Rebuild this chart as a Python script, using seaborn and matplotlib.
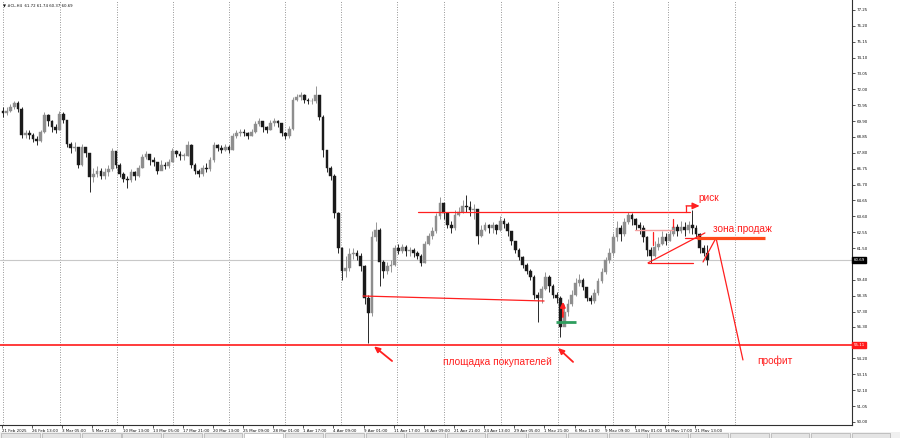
import numpy as np
import matplotlib
matplotlib.use("Agg")
import matplotlib.pyplot as plt
import seaborn as sns
from matplotlib.patches import Rectangle

sns.set_theme(style="white")
plt.rcParams['font.family'] = ['DejaVu Sans']

# ---------------- data (H8-grouped candles of #CL, H4 chart) ----------------
first_open = 70.6
closes = [70.45, 70.6, 70.8, 71.1, 70.7, 69.0, 69.1, 69.0, 68.7, 68.55,
          69.2, 70.3, 69.9, 69.5, 69.3, 70.4, 70.0, 68.4, 68.1, 68.2,
          67.0, 68.2, 67.8, 66.2, 66.4, 66.6, 66.3, 66.5, 66.7, 67.9,
          67.0, 66.4, 66.1, 66.0, 66.5, 66.3, 66.8, 67.5, 67.7, 67.3,
          67.2, 66.6, 67.0, 66.9, 67.2, 67.9, 67.7, 67.6, 67.6, 68.3,
          67.0, 66.6, 66.4, 66.8, 66.7, 67.3, 68.3, 68.1, 68.0, 68.2,
          68.0, 68.9, 69.1, 69.2, 69.1, 68.9, 69.2, 69.7, 69.9, 69.5,
          69.3, 69.8, 69.9, 69.8, 69.1, 68.9, 69.4, 71.3, 71.5, 71.6,
          71.3, 71.2, 71.2, 71.6, 70.2, 68.0, 66.8, 66.3, 63.8, 61.5,
          60.0, 60.2, 61.1, 61.2, 61.0, 60.3, 58.2, 57.2, 62.2, 62.7,
          60.6, 60.0, 60.3, 60.4, 61.5, 61.3, 61.6, 61.3, 61.4, 61.2,
          61.0, 60.5, 61.8, 62.3, 62.6, 63.6, 64.5, 63.8, 63.0, 62.8,
          63.7, 63.9, 64.3, 64.2, 64.0, 64.1, 62.3, 62.7, 63.0, 62.8,
          63.0, 62.7, 63.3, 63.1, 62.6, 62.0, 61.4, 60.9, 60.4, 60.0,
          59.6, 58.4, 58.2, 58.8, 59.6, 59.0, 58.4, 58.2, 56.3, 57.3,
          57.8, 58.4, 59.2, 59.4, 58.9, 58.2, 58.0, 58.5, 59.3, 59.9,
          60.7, 61.2, 62.2, 62.8, 62.4, 63.2, 63.7, 63.4, 63.0, 62.8,
          62.2, 61.4, 61.0, 61.6, 61.8, 62.2, 62.0, 62.4, 62.9, 62.6,
          62.9, 62.7, 63.0, 62.8, 62.4, 61.5, 61.2, 60.69]
highs = [70.8, 70.8, 71.0, 71.25, 71.2, 70.8, 69.3, 69.3, 69.1, 68.9,
         69.3, 70.5, 70.4, 70.0, 69.7, 70.6, 70.5, 70.0, 68.5, 68.5,
         68.2, 68.4, 68.2, 67.8, 66.8, 66.9, 66.8, 66.8, 67.0, 68.1,
         67.9, 67.1, 66.5, 66.3, 66.7, 66.6, 67.0, 67.7, 67.9, 67.7,
         67.5, 67.2, 67.3, 67.2, 67.4, 68.1, 68.0, 67.9, 67.8, 68.6,
         68.4, 67.1, 66.7, 67.0, 67.1, 67.5, 68.5, 68.4, 68.3, 68.4,
         68.3, 69.1, 69.3, 69.4, 69.4, 69.2, 69.4, 69.9, 70.1, 69.9,
         69.6, 70.0, 70.1, 70.0, 69.8, 69.2, 69.6, 71.5, 71.7, 71.8,
         71.7, 71.4, 71.4, 72.2, 71.6, 70.3, 67.8, 66.9, 66.4, 63.9,
         61.6, 61.0, 61.5, 61.5, 61.4, 61.2, 60.4, 58.4, 62.6, 63.2,
         62.8, 60.7, 60.6, 60.7, 61.7, 61.8, 61.8, 61.7, 61.6, 61.5,
         61.3, 61.1, 62.0, 62.5, 62.9, 63.8, 64.9, 64.3, 63.6, 63.3,
         64.0, 64.2, 64.7, 65.0, 64.6, 64.4, 64.1, 63.0, 63.2, 63.1,
         63.2, 63.1, 63.6, 63.5, 63.2, 62.6, 62.0, 61.5, 61.0, 60.5,
         60.1, 59.7, 58.6, 59.0, 59.9, 59.7, 59.1, 58.6, 58.3, 57.8,
         58.1, 58.7, 59.5, 59.8, 59.5, 58.9, 58.4, 58.8, 59.5, 60.2,
         60.9, 61.5, 62.5, 63.3, 63.0, 63.5, 63.9, 63.8, 63.5, 63.2,
         63.0, 62.3, 61.6, 62.0, 62.2, 62.6, 62.5, 62.7, 63.2, 63.1,
         63.3, 63.2, 63.3, 64.0, 63.0, 62.5, 61.7, 61.7]
lows = [70.2, 70.3, 70.5, 70.7, 70.5, 68.8, 68.8, 68.7, 68.5, 68.3,
        68.5, 69.1, 69.6, 69.2, 69.1, 69.3, 69.8, 68.2, 67.8, 67.9,
        66.8, 66.9, 67.5, 65.2, 65.9, 66.2, 66.1, 66.1, 66.3, 66.6,
        66.8, 66.2, 65.9, 65.5, 65.9, 66.0, 66.2, 66.8, 67.4, 67.0,
        66.9, 66.4, 66.7, 66.7, 66.8, 67.2, 67.5, 67.3, 67.3, 67.6,
        66.8, 66.4, 66.2, 66.3, 66.5, 66.6, 67.2, 67.9, 67.8, 67.9,
        67.8, 68.0, 68.8, 68.9, 68.9, 68.7, 68.9, 69.1, 69.6, 69.2,
        69.1, 69.3, 69.6, 69.5, 68.9, 68.7, 68.8, 69.3, 71.2, 71.3,
        71.1, 71.0, 71.0, 71.1, 70.0, 67.5, 66.5, 66.0, 63.5, 61.2,
        59.4, 59.6, 60.0, 60.8, 60.7, 60.0, 57.8, 55.2, 57.0, 62.0,
        59.0, 59.5, 59.8, 59.9, 60.3, 61.1, 61.2, 61.0, 61.0, 60.9,
        60.8, 60.3, 60.5, 61.7, 62.1, 62.5, 63.4, 63.4, 62.8, 62.5,
        62.7, 63.6, 63.8, 63.9, 63.6, 63.4, 61.8, 62.2, 62.6, 62.5,
        62.5, 62.4, 62.6, 62.8, 62.3, 61.7, 61.2, 60.7, 60.2, 59.8,
        59.4, 58.1, 56.6, 57.9, 58.7, 58.6, 58.2, 57.9, 55.6, 56.6,
        57.0, 57.7, 58.3, 59.0, 58.7, 58.0, 57.8, 57.9, 58.4, 59.2,
        59.8, 60.5, 61.0, 62.0, 62.0, 62.3, 63.1, 63.0, 62.7, 62.4,
        61.9, 61.0, 60.5, 60.9, 61.4, 61.7, 61.7, 62.0, 62.3, 62.3,
        62.5, 62.3, 62.5, 62.4, 62.2, 61.2, 61.0, 60.4]

xtick_labels = ["21 Feb 2025", "26 Feb 13:00", "3 Mar 05:00", "5 Mar 21:00",
                "10 Mar 13:00", "13 Mar 05:00", "17 Mar 21:00", "20 Mar 13:00",
                "25 Mar 09:00", "28 Mar 01:00", "1 Apr 17:00", "4 Apr 09:00",
                "9 Apr 01:00", "11 Apr 17:00", "16 Apr 09:00", "21 Apr 21:00",
                "24 Apr 13:00", "29 Apr 05:00", "1 May 21:00", "6 May 13:00",
                "9 May 09:00", "14 May 01:00", "16 May 17:00", "21 May 13:00"]
ytick_values = [77.25, 76.20, 75.15, 74.10, 73.05, 72.00, 70.95, 69.90, 68.85,
                67.80, 66.75, 65.70, 64.65, 63.60, 62.55, 61.50, 59.40, 58.35,
                57.30, 56.30, 54.20, 53.15, 52.10, 51.05, 50.00]
week_starts = [0.5, 30.8, 61.1, 90.8, 120.5, 150.3, 180.0, 209.7, 234.7,
               265.0, 295.2, 324.4, 353.6, 389.2]
current_price = 60.69
buyers_level = 55.11
header_text = "\u25BC #CL,H4  61.72 61.74 60.37 60.69"

# drawn analysis objects (bar index, price)
resistance_line = ([220.9, 365.3], [63.86, 63.86])
support_line = ([191.7, 287.8], [58.33, 58.00])
triangle_rise = ([343.0, 373.2], [60.52, 62.50])
triangle_base = ([343.0, 366.9], [60.52, 60.52])
pink_line = ([336.1, 356.2], [62.70, 62.70])
sell_zone = ([369.0, 405.1], [62.15, 62.15])
sell_zone_thin = ([362.6, 374.3], [62.19, 62.19])
profit_path = ([372.2, 379.1, 393.4], [60.58, 62.17, 54.10])
green_line = ([294.1, 304.7], [56.61, 56.61])
risk_tick = ([363.2, 363.2], [64.29, 63.86])
small_marks = [([345.6, 345.6], [62.57, 61.70]), ([356.2, 356.2], [63.43, 62.90])]
arrow_buyers_1 = ((207.1, 54.03), (197.5, 55.00))
arrow_buyers_2 = ((303.2, 53.97), (295.2, 54.89))
arrow_risk = ((363.2, 64.29), (370.4, 64.29))
arrow_up = ((297.8, 56.94), (297.8, 57.95))
labels_text = [("площадка покупателей", 234.1, 53.97),
               ("риск", 369.6, 64.80),
               ("зона продаж", 377.5, 62.75),
               ("профит", 400.8, 54.03)]

# ---------------- figure ----------------
W, H = 900, 438
fig = plt.figure(figsize=(W / 100, H / 100), dpi=100)
fig.patch.set_facecolor("white")
ax = fig.add_axes([0.0, (H - 424.5) / H, 852 / W, 424.5 / H])
ax.set_facecolor("white")

n = len(closes)
opens = [first_open] + closes[:-1]
pos = 2 * np.arange(n) + 0.5

up_col, dn_col = "#8e8e8e", "#1a1a1a"
cols = [up_col if c >= o else dn_col for o, c in zip(opens, closes)]
ax.vlines(pos, lows, highs, colors=cols, linewidth=0.65, zorder=3)
bottoms = [min(o, c) for o, c in zip(opens, closes)]
heights = [max(abs(c - o), 0.05) for o, c in zip(opens, closes)]
ax.bar(pos, heights, bottom=bottoms, width=1.45, color=cols, edgecolor=cols,
       linewidth=0.3, zorder=4)

# grid (weekly separators)
for w in week_starts:
    ax.axvline(w, color="#8a8a8a", linestyle=(0, (1.2, 1.8)), linewidth=0.6, zorder=1)

# current price line & buyers line
ax.axhline(current_price, color="#c8c8c8", linewidth=0.8, zorder=2)
ax.axhline(buyers_level, color="#ff1a1a", linewidth=1.2, zorder=5)

red = "#ff1f1f"
for xs, ys in [resistance_line, support_line, triangle_rise, triangle_base,
               sell_zone_thin, profit_path, risk_tick] + small_marks:
    ax.plot(xs, ys, color=red, linewidth=0.9, zorder=6)
ax.plot(*pink_line, color="#f3a0a0", linewidth=1.0, zorder=6)
ax.plot(*sell_zone, color="#ff4a1a", linewidth=2.3, zorder=6, solid_capstyle="butt")
ax.plot(*green_line, color="#2e9e5e", linewidth=2.0, zorder=7, solid_capstyle="butt")

for tail, head in [arrow_buyers_1, arrow_buyers_2]:
    ax.annotate("", xy=head, xytext=tail,
                arrowprops=dict(arrowstyle="-|>,head_length=0.28,head_width=0.13",
                                color=red, lw=1.3, shrinkA=0, shrinkB=0), zorder=8)
ax.annotate("", xy=arrow_risk[1], xytext=arrow_risk[0],
            arrowprops=dict(arrowstyle="-|>,head_length=0.35,head_width=0.16",
                            color=red, lw=1.0, shrinkA=0, shrinkB=0), zorder=8)
ax.annotate("", xy=arrow_up[1], xytext=arrow_up[0],
            arrowprops=dict(arrowstyle="-|>,head_length=0.25,head_width=0.12",
                            color=red, lw=1.3, shrinkA=0, shrinkB=0), zorder=8)

for txt, xx, yy in labels_text:
    ax.text(xx, yy, txt, color=red, fontsize=7.3, ha="left", va="center",
            family=["Liberation Sans", "DejaVu Sans"], zorder=9)

# axes limits / spines
ax.set_xlim(-1.06, 451.3)
ax.set_ylim(49.83, 77.91)
for s in ["left", "top"]:
    ax.spines[s].set_visible(False)
for s in ["right", "bottom"]:
    ax.spines[s].set_color("#303030")
    ax.spines[s].set_linewidth(0.8)

ax.yaxis.tick_right()
ax.set_yticks(ytick_values)
ax.set_yticklabels([f"{v:.2f}" for v in ytick_values])
ax.tick_params(axis="y", direction="out", length=2, width=0.5, pad=1.5,
               labelsize=2.9, colors="#111111", right=True, left=False)
ax.set_xticks(np.arange(len(xtick_labels)) * 16)
ax.set_xticklabels(xtick_labels)
ax.tick_params(axis="x", direction="out", length=2.5, width=0.5, pad=0.8,
               labelsize=2.9, colors="#111111", bottom=True)
for lab in ax.get_xticklabels():
    lab.set_horizontalalignment("left")
ax.grid(False)

# price boxes on the axis
ax.text(1.0015, current_price, f"{current_price:.2f}", transform=ax.get_yaxis_transform(),
        fontsize=2.9, color="white", ha="left", va="center",
        bbox=dict(boxstyle="square,pad=0.25", fc="black", ec="black"), zorder=10,
        clip_on=False)
ax.text(1.0015, buyers_level, f"{buyers_level:.2f}", transform=ax.get_yaxis_transform(),
        fontsize=2.9, color="white", ha="left", va="center",
        bbox=dict(boxstyle="square,pad=0.25", fc="#ff1a1a", ec="#ff1a1a"), zorder=10,
        clip_on=False)

# header
ax.text(0.004, 0.992, header_text, transform=ax.transAxes, fontsize=2.8,
        color="#111111", ha="left", va="top", zorder=10)

# bottom tab strip
fig.patches.append(Rectangle((0, 0), 1, 6.5 / H, transform=fig.transFigure,
                             facecolor="#f0f0f0", edgecolor="none", zorder=0))
for i in range(22):
    x0 = 1 + i * 40.5
    sel = (i == 6)
    fig.patches.append(Rectangle((x0 / W, 0), 38.5 / W, 5.5 / H, transform=fig.transFigure,
                                 facecolor="white" if sel else "#e4e4e4",
                                 edgecolor="#a0a0a0", linewidth=0.4, zorder=1))

fig.savefig("out.png", dpi=100, facecolor="white")
